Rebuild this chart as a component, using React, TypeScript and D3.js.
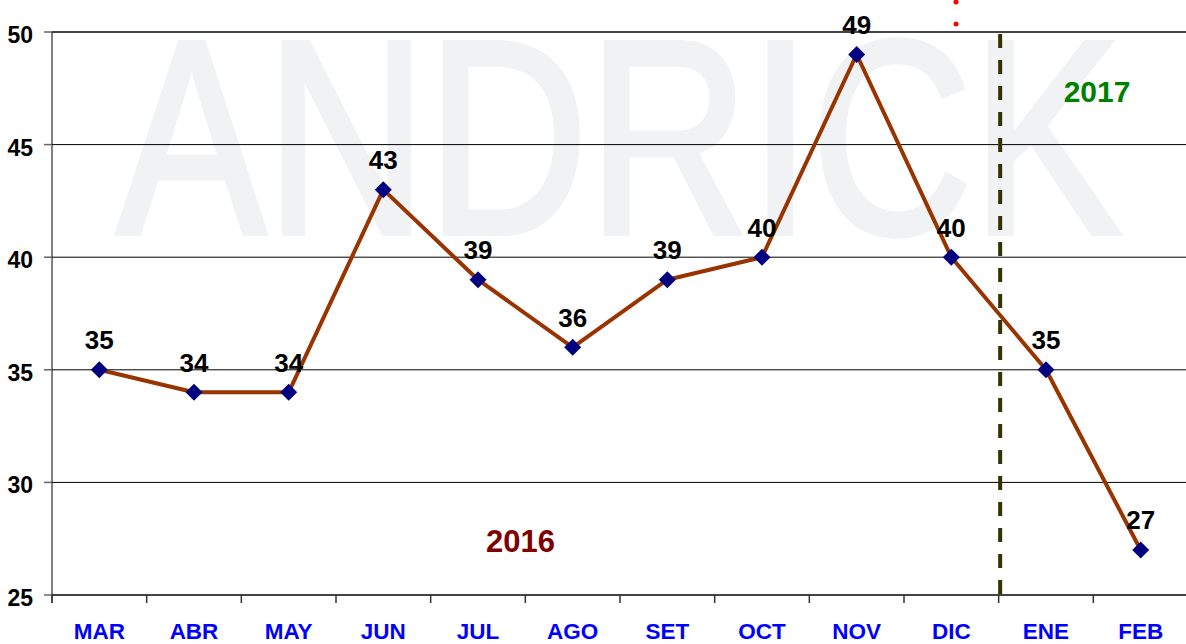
import React from "react";
import * as d3 from "d3";

const months = ["MAR", "ABR", "MAY", "JUN", "JUL", "AGO", "SET", "OCT", "NOV", "DIC", "ENE", "FEB"];
const values = [35, 34, 34, 43, 39, 36, 39, 40, 49, 40, 35, 27];
const yTicks = [25, 30, 35, 40, 45, 50];

const W = 1186;
const H = 644;
const left = 52;
const right = 1188;
const top = 32;
const bottom = 595;

export default function App() {
  const x = d3.scaleBand<string>().domain(months).range([left, right]).paddingInner(0).paddingOuter(0);
  const y = d3.scaleLinear().domain([25, 50]).range([bottom, top]);
  const cx = (m: string) => (x(m) as number) + x.bandwidth() / 2;
  const line = d3
    .line<number>()
    .x((_, i) => cx(months[i]))
    .y((v) => y(v));
  const boundaries = d3.range(months.length + 1).map((i) => left + i * x.bandwidth());
  const splitX = (x("ENE") as number) + 1.5;
  const font = "Arial, 'Liberation Sans', sans-serif";

  return (
    <svg
      width={W}
      height={H}
      style={{ position: "absolute", left: 0, top: 0, display: "block", background: "#fff" }}
      fontFamily={font}
    >
      <defs>
        <clipPath id="plotclip">
          <rect x={left} y={top} width={right - left} height={bottom - top} />
        </clipPath>
      </defs>
      <g clipPath="url(#plotclip)">
        <text
          x={117}
          y={233}
          fontSize={276}
          fill="#f1f2f4"
          stroke="#f1f2f4"
          strokeWidth={6}
          strokeLinejoin="miter"
          textLength={1004}
          lengthAdjust="spacingAndGlyphs"
        >
          ANDRICK
        </text>
      </g>
      {yTicks.slice(1).map((t) => (
        <line key={t} x1={left} x2={W} y1={y(t)} y2={y(t)} stroke={t === 50 ? "#444" : "#000"} strokeWidth={t === 50 ? 2 : 1} />
      ))}
      <line x1={left} x2={W} y1={bottom} y2={bottom} stroke="#444" strokeWidth={2} />
      <line x1={left} x2={left} y1={top} y2={bottom + 8} stroke="#000" strokeWidth={1} />
      {yTicks.map((t) => (
        <g key={"yt" + t}>
          <line x1={left - 8} x2={left} y1={y(t)} y2={y(t)} stroke="#666" strokeWidth={1.5} />
          <text x={33} y={y(t) + 11} textAnchor="end" fontSize={23} fontWeight="bold" fill="#000">
            {t}
          </text>
        </g>
      ))}
      {boundaries.map((b, i) => (
        <line key={"bt" + i} x1={b} x2={b} y1={bottom} y2={bottom + 8} stroke="#333" strokeWidth={1.5} />
      ))}
      {months.map((m) => (
        <text key={m} x={cx(m)} y={639} textAnchor="middle" fontSize={22.5} fontWeight="bold" fill="#0000ff">
          {m}
        </text>
      ))}
      <line
        x1={splitX}
        x2={splitX}
        y1={34}
        y2={602}
        stroke="#333300"
        strokeWidth={4}
        strokeDasharray="14 12"
      />
      <circle cx={956} cy={2} r={2.5} fill="#ff0000" />
      <circle cx={956} cy={24} r={2.5} fill="#ff0000" />
      <path d={line(values) as string} fill="none" stroke="#993300" strokeWidth={4} strokeLinejoin="round" />
      {values.map((v, i) => {
        const px = cx(months[i]);
        const py = y(v);
        return (
          <g key={"p" + i}>
            <path d={`M${px},${py - 8.5}L${px + 8.5},${py}L${px},${py + 8.5}L${px - 8.5},${py}Z`} fill="#000080" />
            <text x={px} y={py - 20.5} textAnchor="middle" fontSize={26} fontWeight="bold" fill="#000">
              {v}
            </text>
          </g>
        );
      })}
      <text x={520.5} y={552} textAnchor="middle" fontSize={31} fontWeight="bold" fill="#800000">
        2016
      </text>
      <text x={1097} y={102} textAnchor="middle" fontSize={30} fontWeight="bold" fill="#008000">
        2017
      </text>
    </svg>
  );
}
